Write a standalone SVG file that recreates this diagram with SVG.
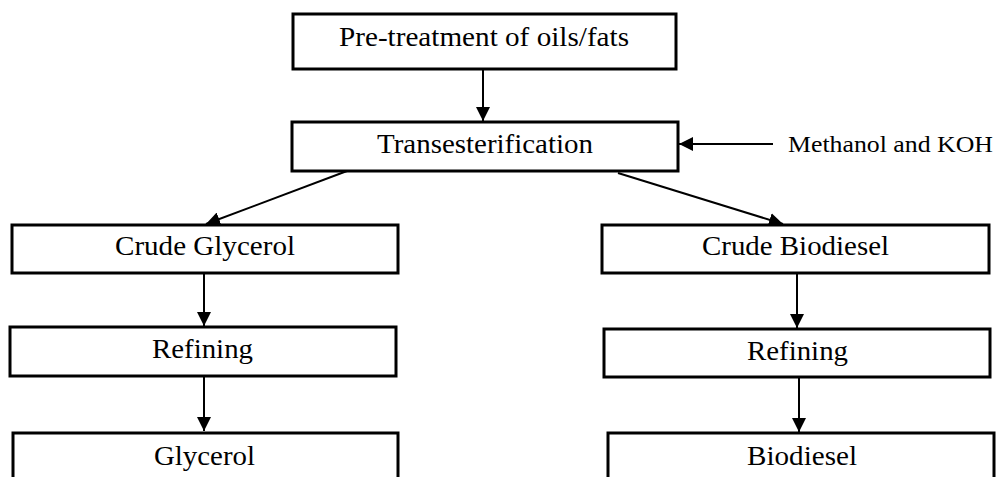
<svg xmlns="http://www.w3.org/2000/svg" width="1003" height="477" viewBox="0 0 1003 477">
<style>
.box{fill:#fff;stroke:#000;stroke-width:3}
.lbl{font-family:"Liberation Serif","Times New Roman",serif;font-size:27px;fill:#000;text-anchor:middle}
.side{font-family:"Liberation Serif","Times New Roman",serif;font-size:23px;fill:#000}
.con{stroke:#000;stroke-width:2;fill:none;marker-end:url(#ah)}
</style>
<defs>
<marker id="ah" markerUnits="userSpaceOnUse" markerWidth="15" markerHeight="14" refX="14" refY="7" orient="auto">
<path d="M0,0 L14,7 L0,14 Z" fill="#000"/>
</marker>
</defs>
<rect width="1003" height="477" fill="#fff"/>
<g id="connectors">
<line class="con" x1="483" y1="70" x2="483" y2="121"/>
<line class="con" x1="773" y1="144" x2="679" y2="144"/>
<line class="con" x1="347" y1="171" x2="206" y2="224"/>
<line class="con" x1="618" y1="173" x2="783" y2="224"/>
<line class="con" x1="204" y1="274" x2="204" y2="326"/>
<line class="con" x1="204" y1="377" x2="204" y2="431"/>
<line class="con" x1="797" y1="274" x2="797" y2="328"/>
<line class="con" x1="799" y1="378" x2="799" y2="432"/>
</g>
<g id="pretreatment">
<rect class="box" x="293" y="14" width="383" height="55"/>
<text class="lbl" x="484" y="46" textLength="290" lengthAdjust="spacingAndGlyphs">Pre-treatment of oils/fats</text>
</g>
<g id="transesterification">
<rect class="box" x="292" y="122" width="386" height="49"/>
<text class="lbl" x="485" y="153" textLength="216" lengthAdjust="spacingAndGlyphs">Transesterification</text>
</g>
<g id="methanol">
<text class="side" x="788" y="152" textLength="205" lengthAdjust="spacingAndGlyphs">Methanol and KOH</text>
</g>
<g id="crude-glycerol">
<rect class="box" x="12" y="225" width="386" height="48"/>
<text class="lbl" x="205" y="255" textLength="180" lengthAdjust="spacingAndGlyphs">Crude Glycerol</text>
</g>
<g id="refining-left">
<rect class="box" x="10" y="327" width="386" height="49"/>
<text class="lbl" x="202.5" y="358" textLength="101" lengthAdjust="spacingAndGlyphs">Refining</text>
</g>
<g id="glycerol">
<rect class="box" x="13" y="433" width="385" height="60"/>
<text class="lbl" x="204.5" y="465" textLength="101" lengthAdjust="spacingAndGlyphs">Glycerol</text>
</g>
<g id="crude-biodiesel">
<rect class="box" x="602" y="225" width="387" height="48"/>
<text class="lbl" x="795.5" y="255" textLength="187" lengthAdjust="spacingAndGlyphs">Crude Biodiesel</text>
</g>
<g id="refining-right">
<rect class="box" x="604" y="329" width="386" height="48"/>
<text class="lbl" x="797.5" y="360" textLength="101" lengthAdjust="spacingAndGlyphs">Refining</text>
</g>
<g id="biodiesel">
<rect class="box" x="608" y="433" width="386" height="60"/>
<text class="lbl" x="802" y="465" textLength="110" lengthAdjust="spacingAndGlyphs">Biodiesel</text>
</g>
</svg>
